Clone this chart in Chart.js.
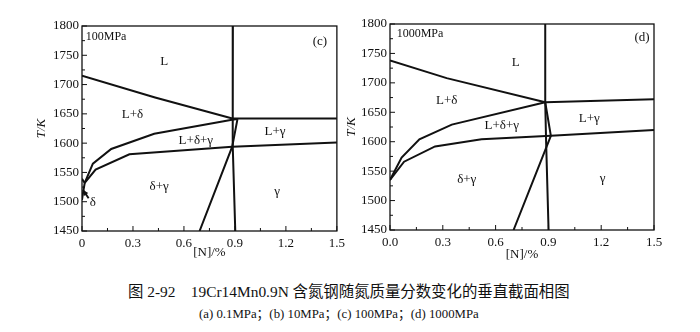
<!DOCTYPE html>
<html>
<head>
<meta charset="utf-8">
<script src="https://cdn.jsdelivr.net/npm/chart.js@4/dist/chart.umd.min.js"></script>
<style>
  body { margin: 0; background: #fff; }
  #wrap { position: relative; width: 700px; height: 332px; overflow: hidden; }
  .box { position: absolute; top: 0; }
  .cap { position: absolute; white-space: nowrap; color: #111;
         font-family: "Liberation Serif", "Noto Sans CJK SC", serif; }
</style>
</head>
<body>
<div id="wrap">
  <div class="box" style="left:0;width:350px;height:264px"><canvas id="c"></canvas></div>
  <div class="box" style="left:336px;width:364px;height:266px"><canvas id="d"></canvas></div>
  <div class="cap" style="left:128px;top:279px;font-size:15.4px">图 2-92&nbsp;&nbsp;&nbsp;&nbsp;19Cr14Mn0.9N 含氮钢随氮质量分数变化的垂直截面相图</div>
  <div class="cap" style="left:199px;top:303px;font-size:12.8px">(a) 0.1MPa；(b) 10MPa；(c) 100MPa；(d) 1000MPa</div>
</div>
<script>
// tick labels
const yTicks = [1450, 1500, 1550, 1600, 1650, 1700, 1750, 1800];
const cXLabels = ['0', '0.3', '0.6', '0.9', '1.2', '1.5'];
const dXLabels = ['0.0', '0.3', '0.6', '0.9', '1.2', '1.5'];

// (c) 100MPa phase boundaries, [N]% vs T/K
const cLiquidus = [[0, 1715], [0.43, 1678], [0.885, 1642]];
const cVertical = [[0.888, 1800], [0.888, 1642], [0.886, 1596], [0.902, 1450]];
const cLgTop = [[0.885, 1642], [1.5, 1642]];
const cUpper = [[0.016, 1532], [0.064, 1565], [0.172, 1590], [0.425, 1616], [0.883, 1640], [0.915, 1641]];
const cLower = [[0.016, 1532], [0.08, 1555], [0.279, 1581], [0.884, 1594], [1.5, 1601]];
const cRight = [[0.915, 1641], [0.884, 1594], [0.692, 1450]];
const cDelta = [[0, 1539], [0.016, 1532], [0.006, 1515], [0, 1503]];
const cArrow = [[0.039, 1506], [0.006, 1520]];
const cLabels = [
  ['100MPa', 0.022, 1781, 'left'], ['(c)', 1.40, 1774], ['L', 0.484, 1739],
  ['L+δ', 0.297, 1648], ['L+δ+γ', 0.67, 1604], ['L+γ', 1.136, 1620],
  ['δ+γ', 0.454, 1526], ['γ', 1.148, 1517], ['δ', 0.064, 1498]
];

// (d) 1000MPa phase boundaries
const dLiquidus = [[0, 1738], [0.322, 1708], [0.882, 1667]];
const dVertical = [[0.882, 1800], [0.882, 1667], [0.887, 1600], [0.901, 1450]];
const dLgTop = [[0.882, 1667], [1.5, 1672]];
const dUpper = [[0, 1535], [0.066, 1573], [0.167, 1604], [0.351, 1629], [0.882, 1667]];
const dLower = [[0, 1535], [0.08, 1566], [0.256, 1592], [0.52, 1604], [0.914, 1610], [1.5, 1620]];
const dRight = [[0.882, 1667], [0.914, 1610], [0.702, 1450]];
const dLabels = [
  ['1000MPa', 0.038, 1783, 'left'], ['(d)', 1.432, 1777], ['L', 0.715, 1735],
  ['L+δ', 0.322, 1670], ['L+δ+γ', 0.635, 1627], ['L+γ', 1.132, 1640],
  ['δ+γ', 0.436, 1535], ['γ', 1.208, 1537]
];

const SERIF = '"Liberation Serif", "Times New Roman", serif';

function toPts(arr) {
  return arr.map(p => ({ x: p[0], y: p[1] }));
}

function lineSet(arr) {
  return {
    data: toPts(arr),
    showLine: true,
    borderColor: '#111',
    borderWidth: 2,
    pointRadius: 0,
    tension: 0,
  };
}

// frame, inward ticks, region labels, arrow head
const decor = {
  id: 'decor',
  afterDatasetsDraw(chart, args, opts) {
    const { ctx, chartArea: a, scales } = chart;
    const x = scales.x, y = scales.y;
    ctx.save();
    ctx.strokeStyle = '#111';
    ctx.lineWidth = 1.3;
    ctx.strokeRect(a.left, a.top, a.right - a.left, a.bottom - a.top);
    ctx.lineWidth = 1;
    ctx.beginPath();
    x.ticks.forEach((t, i) => {
      const px = x.getPixelForValue(t.value);
      ctx.moveTo(px, a.bottom); ctx.lineTo(px, a.bottom - 5);
      if (i < x.ticks.length - 1) {
        const mx = x.getPixelForValue(t.value + 0.15);
        ctx.moveTo(mx, a.bottom); ctx.lineTo(mx, a.bottom - 3);
      }
    });
    y.ticks.forEach((t, i) => {
      const py = y.getPixelForValue(t.value);
      ctx.moveTo(a.left, py); ctx.lineTo(a.left + 5, py);
      if (i < y.ticks.length - 1) {
        const my = y.getPixelForValue(t.value + 25);
        ctx.moveTo(a.left, my); ctx.lineTo(a.left + 3, my);
      }
    });
    ctx.stroke();

    ctx.fillStyle = '#111';
    ctx.textBaseline = 'middle';
    opts.labels.forEach(l => {
      ctx.font = (l[0].indexOf('MPa') >= 0 ? '12px ' : '13px ') + SERIF;
      ctx.textAlign = l[3] || 'center';
      ctx.fillText(l[0], x.getPixelForValue(l[1]), y.getPixelForValue(l[2]));
    });

    if (opts.arrow) {
      const p0 = opts.arrow[0], p1 = opts.arrow[1];
      const x0 = x.getPixelForValue(p0[0]), y0 = y.getPixelForValue(p0[1]);
      const x1 = x.getPixelForValue(p1[0]), y1 = y.getPixelForValue(p1[1]);
      const ang = Math.atan2(y1 - y0, x1 - x0);
      ctx.beginPath();
      ctx.moveTo(x1, y1);
      ctx.lineTo(x1 - 6 * Math.cos(ang - 0.45), y1 - 6 * Math.sin(ang - 0.45));
      ctx.lineTo(x1 - 6 * Math.cos(ang + 0.45), y1 - 6 * Math.sin(ang + 0.45));
      ctx.closePath();
      ctx.fill();
    }
    ctx.restore();
  }
};

function makeChart(id, sets, xLabels, labels, arrow, pad, yWidth, xHeight) {
  return new Chart(document.getElementById(id), {
    type: 'scatter',
    data: { datasets: sets.map(lineSet) },
    options: {
      responsive: true,
      maintainAspectRatio: false,
      animation: false,
      layout: { padding: pad },
      plugins: {
        legend: { display: false },
        tooltip: { enabled: false },
        decor: { labels: labels, arrow: arrow },
      },
      scales: {
        x: {
          type: 'linear',
          min: 0, max: 1.5,
          grid: { display: false, drawTicks: false },
          border: { display: false },
          afterBuildTicks(s) {
            s.ticks = xLabels.map((_, i) => ({ value: i * 0.3 }));
          },
          afterFit(s) { s.height = xHeight; },
          ticks: {
            padding: 5,
            color: '#111',
            font: { family: SERIF, size: 13 },
            maxRotation: 0,
            autoSkip: false,
            callback: (v, i) => xLabels[i],
          },
          title: {
            display: true,
            text: '[N]/%',
            color: '#111',
            font: { family: SERIF, size: 13 },
            padding: { top: 0, bottom: 4 },
          },
        },
        y: {
          type: 'linear',
          min: 1450, max: 1800,
          grid: { display: false, drawTicks: false },
          border: { display: false },
          afterBuildTicks(s) {
            s.ticks = yTicks.map(v => ({ value: v }));
          },
          afterFit(s) { s.width = yWidth; },
          ticks: {
            padding: 3,
            color: '#111',
            font: { family: SERIF, size: 13 },
            autoSkip: false,
            callback: v => String(v),
          },
          title: {
            display: true,
            text: 'T/K',
            color: '#111',
            font: { family: SERIF, size: 13, style: 'italic' },
            padding: { top: 4, bottom: 0 },
          },
        },
      },
    },
    plugins: [decor],
  });
}

makeChart('c',
  [cLiquidus, cVertical, cLgTop, cUpper, cLower, cRight, cDelta, cArrow],
  cXLabels, cLabels, cArrow,
  { left: 30, top: 26, right: 11, bottom: 0 }, 52, 33);

makeChart('d',
  [dLiquidus, dVertical, dLgTop, dUpper, dLower, dRight],
  dXLabels, dLabels, null,
  { left: 4, top: 24, right: 46, bottom: 0 }, 50, 36);
</script>
</body>
</html>
